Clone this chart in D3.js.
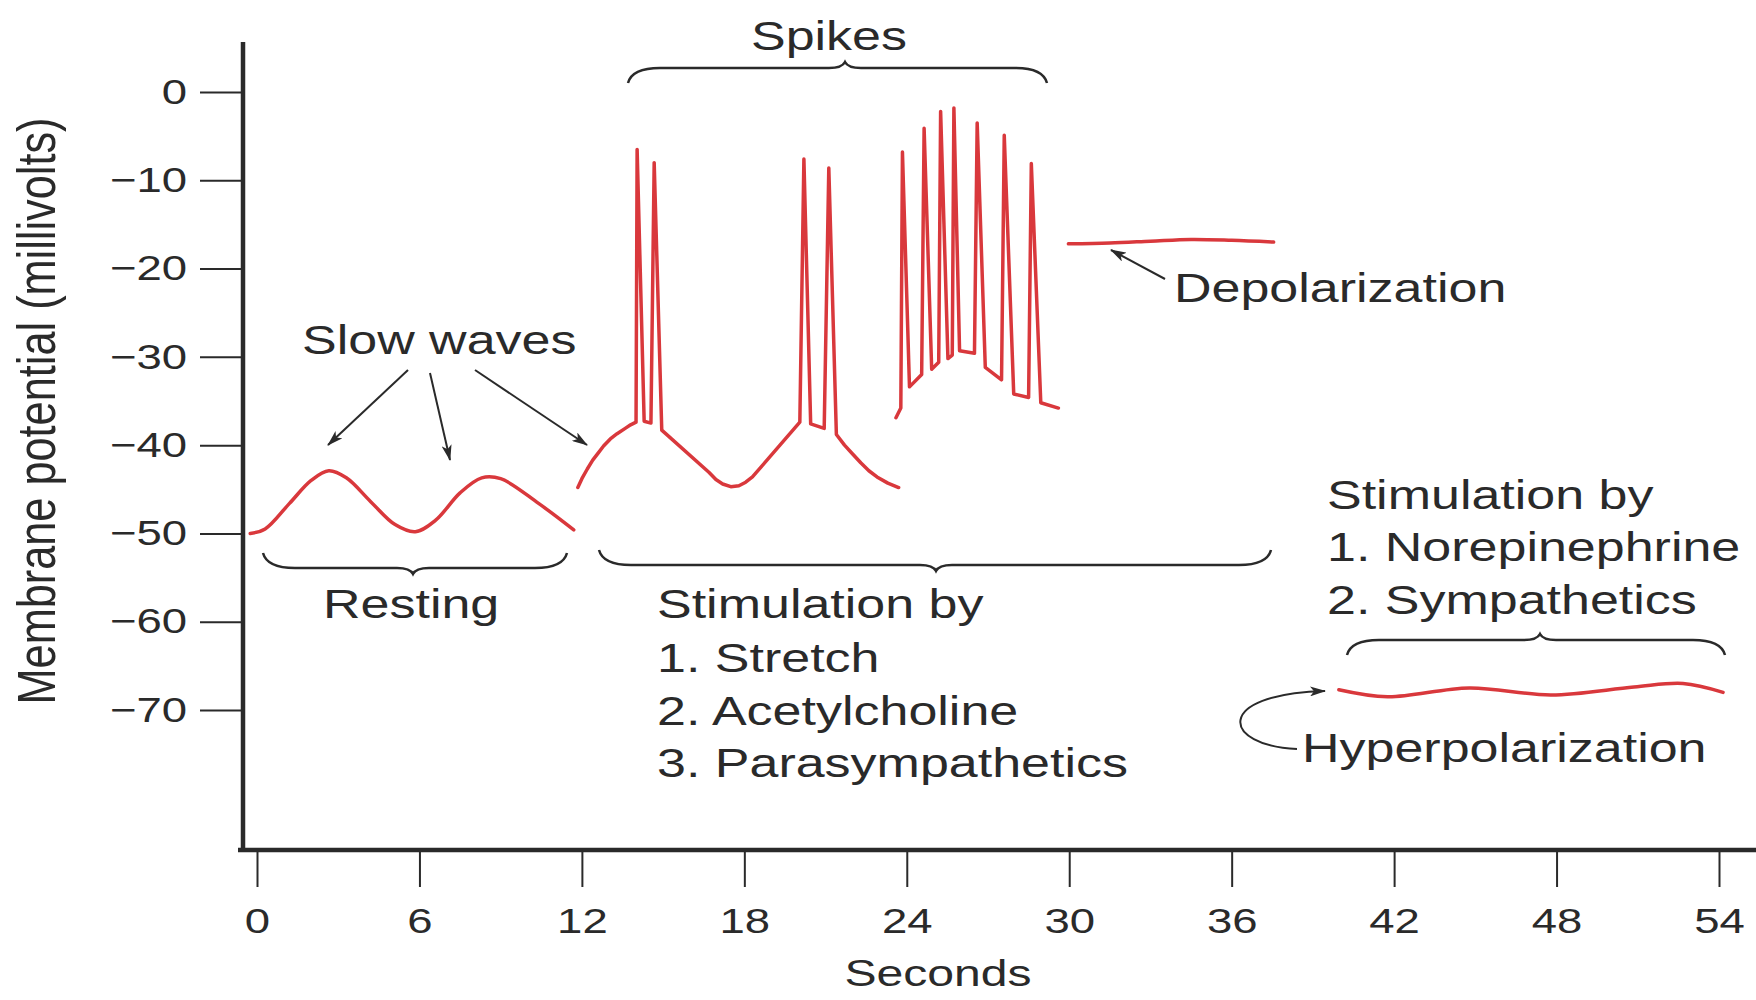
<!DOCTYPE html>
<html lang="en">
<head>
    <meta charset="utf-8">
    <title>Membrane potential</title>
    <script type="text/javascript" src="https://d3js.org/d3.v7.min.js"></script>
    <style>
        body { margin: 0; background: #ffffff; }
        svg text {
            font-family: "Liberation Sans", Arial, Helvetica, sans-serif;
            fill: #2a2a2a;
        }
    </style>
</head>
<body>
<div id="chart"></div>

<script type="text/javascript">
    // ---- data (seconds, millivolts) ----
    const xTicks = [0, 6, 12, 18, 24, 30, 36, 42, 48, 54];
    const yTicks = [0, -10, -20, -30, -40, -50, -60, -70];

    const restingWave = [
        [-0.25, -50], [0.3, -49.5], [1.2, -46.6], [2.0, -44], [2.65, -42.9],
        [3.3, -43.7], [4.2, -46.4], [5.1, -49.0], [5.85, -49.8], [6.6, -48.5],
        [7.5, -45.4], [8.3, -43.7], [9.0, -43.8], [10.4, -46.6], [11.7, -49.6]
    ];

    const spikeTrain = [
        [11.85, -44.8], [12.0, -43.8], [12.2, -42.7], [12.4, -41.7], [12.6, -40.9],
        [12.8, -40.1], [13.05, -39.3], [13.3, -38.7], [13.6, -38.1], [13.8, -37.7],
        [14.0, -37.4], [14.04, -6.5], [14.3, -37.3], [14.55, -37.5], [14.67, -8.0],
        [14.95, -38.3], [16.7, -43.1], [16.95, -43.9], [17.2, -44.4], [17.5, -44.7],
        [17.8, -44.6], [18.05, -44.2], [18.3, -43.6], [20.05, -37.4], [20.2, -7.6],
        [20.45, -37.6], [20.95, -38.1], [21.12, -8.6], [21.4, -38.8], [21.7, -40.0],
        [22.0, -41.0], [22.3, -42.0], [22.6, -42.9], [22.9, -43.6], [23.3, -44.3],
        [23.7, -44.8]
    ];

    const burstTrain = [
        [23.6, -36.9], [23.78, -35.8], [23.84, -6.8], [24.1, -33.4], [24.55, -32.0],
        [24.64, -4.1], [24.92, -31.4], [25.18, -30.6], [25.25, -2.2], [25.52, -30.2],
        [25.68, -29.8], [25.74, -1.8], [25.95, -29.3], [26.5, -29.6], [26.6, -3.5],
        [26.9, -31.2], [27.5, -32.6], [27.6, -4.9], [27.95, -34.2], [28.5, -34.6],
        [28.6, -8.1], [28.95, -35.2], [29.6, -35.8]
    ];

    const depolarization = [
        [29.97, -17.2], [31.5, -17.1], [33.0, -16.9], [34.5, -16.7], [36.0, -16.8], [37.55, -17.0]
    ];

    const hyperpolarization = [
        [39.96, -67.7], [41.76, -68.5], [44.78, -67.5], [47.8, -68.3], [50.86, -67.4],
        [52.67, -67.0], [54.15, -68.0]
    ];

    // ---- layout ----
    const width = 1756;
    const height = 1000;
    const axisX = 243;
    const axisY = 850;
    const stretch = 1.3;       // the figure's lettering is wide
    const ink = "#2a2a2a";
    const red = "#d9383c";

    const svg = d3.select("#chart")
        .append("svg")
        .attr("width", width)
        .attr("height", height);

    const xScale = d3.scaleLinear().domain([0, 54]).range([257, 1719]);
    const yScale = d3.scaleLinear().domain([0, -70]).range([92, 710]);

    // arrow head
    svg.append("defs").append("marker")
        .attr("id", "head")
        .attr("markerUnits", "userSpaceOnUse")
        .attr("viewBox", "0 0 16 10")
        .attr("markerWidth", 16)
        .attr("markerHeight", 10)
        .attr("refX", 15)
        .attr("refY", 5)
        .attr("orient", "auto")
        .append("path")
        .attr("d", "M0,0 L16,5 L0,10 L4,5 Z")
        .attr("fill", ink);

    // x axis
    const gx = svg.append("g")
        .attr("transform", `translate(0, ${axisY})`)
        .call(d3.axisBottom(xScale)
              .tickValues(xTicks)
              .tickSize(37)
              .tickPadding(21)
              .tickFormat(d3.format("d")));
    gx.select(".domain").remove();
    gx.selectAll(".tick line").attr("stroke", ink).attr("stroke-width", 2);
    gx.selectAll(".tick text")
        .attr("font-size", 35)
        .attr("fill", ink)
        .attr("transform", `scale(${stretch},1)`);

    // y axis
    const gy = svg.append("g")
        .attr("transform", `translate(${axisX}, 0)`)
        .call(d3.axisLeft(yScale)
              .tickValues(yTicks)
              .tickSize(43)
              .tickFormat(d3.format("d")));
    gy.select(".domain").remove();
    gy.selectAll(".tick line").attr("stroke", ink).attr("stroke-width", 2);
    gy.selectAll(".tick text")
        .attr("font-size", 35)
        .attr("fill", ink)
        .attr("x", 0)
        .attr("transform", `translate(-56,0) scale(${stretch},1)`);

    // heavy axis lines
    svg.append("line")
        .attr("x1", axisX).attr("x2", axisX)
        .attr("y1", 42).attr("y2", axisY + 2)
        .attr("stroke", ink).attr("stroke-width", 4.5);
    svg.append("line")
        .attr("x1", axisX - 5).attr("x2", width)
        .attr("y1", axisY).attr("y2", axisY)
        .attr("stroke", ink).attr("stroke-width", 4.5);

    // axis titles
    svg.append("text")
        .attr("transform", `translate(55, 411) scale(${stretch},1) rotate(-90)`)
        .attr("text-anchor", "middle")
        .attr("font-size", 41)
        .attr("textLength", 587)
        .attr("lengthAdjust", "spacingAndGlyphs")
        .text("Membrane potential (millivolts)");

    svg.append("text")
        .attr("transform", `translate(938, 986) scale(${stretch},1)`)
        .attr("text-anchor", "middle")
        .attr("font-size", 37)
        .text("Seconds");

    // traces: smooth waves, straight spike trains
    const smooth = d3.line()
        .x(d => xScale(d[0]))
        .y(d => yScale(d[1]))
        .curve(d3.curveCatmullRom.alpha(0.5));
    const sharp = d3.line()
        .x(d => xScale(d[0]))
        .y(d => yScale(d[1]));

    const traces = [
        [restingWave, smooth],
        [spikeTrain, sharp],
        [burstTrain, sharp],
        [depolarization, smooth],
        [hyperpolarization, smooth]
    ];

    svg.append("g")
        .selectAll("path")
        .data(traces)
        .join("path")
        .attr("d", d => d[1](d[0]))
        .attr("fill", "none")
        .attr("stroke", red)
        .attr("stroke-width", 3.5)
        .attr("stroke-linejoin", "round")
        .attr("stroke-linecap", "round");

    // braces: dir 1 = point down, -1 = point up
    function bracePath(x1, x2, xm, y, dir) {
        const e = y - dir * 15;
        const t = y + dir * 6;
        return `M${x1},${e} Q${x1 + 4},${y} ${x1 + 32},${y} L${xm - 16},${y} ` +
               `Q${xm - 3},${y} ${xm},${t} Q${xm + 3},${y} ${xm + 16},${y} ` +
               `L${x2 - 32},${y} Q${x2 - 4},${y} ${x2},${e}`;
    }
    const braces = [
        [628, 1047, 845, 68, -1],
        [263, 567, 413, 568, 1],
        [599, 1271, 936, 565, 1],
        [1347, 1725, 1540, 640, -1]
    ];
    svg.append("g")
        .selectAll("path")
        .data(braces)
        .join("path")
        .attr("d", d => bracePath(...d))
        .attr("fill", "none")
        .attr("stroke", ink)
        .attr("stroke-width", 2.5);

    // labels
    const labels = [
        ["Spikes", 829, 50, "middle"],
        ["Slow waves", 302, 354, "start"],
        ["Resting", 323, 618, "start"],
        ["Stimulation by", 657, 618, "start"],
        ["1. Stretch", 657, 672, "start"],
        ["2. Acetylcholine", 657, 725, "start"],
        ["3. Parasympathetics", 657, 777, "start"],
        ["Depolarization", 1174, 302, "start"],
        ["Stimulation by", 1327, 509, "start"],
        ["1. Norepinephrine", 1327, 561, "start"],
        ["2. Sympathetics", 1327, 614, "start"],
        ["Hyperpolarization", 1302, 762, "start"]
    ];
    svg.append("g")
        .selectAll("text")
        .data(labels)
        .join("text")
        .attr("transform", d => `translate(${d[1]}, ${d[2]}) scale(${stretch},1)`)
        .attr("text-anchor", d => d[3])
        .attr("font-size", 40)
        .text(d => d[0]);

    // pointer arrows
    const arrows = [
        "M408,370 L328,445",
        "M430,373 L450,460",
        "M475,370 L587,445",
        "M1165,279 L1111,250",
        "M1297,749 C1222,746 1212,694 1325,691"
    ];
    svg.append("g")
        .selectAll("path")
        .data(arrows)
        .join("path")
        .attr("d", d => d)
        .attr("fill", "none")
        .attr("stroke", ink)
        .attr("stroke-width", 2)
        .attr("marker-end", "url(#head)");
</script>
</body>
</html>
